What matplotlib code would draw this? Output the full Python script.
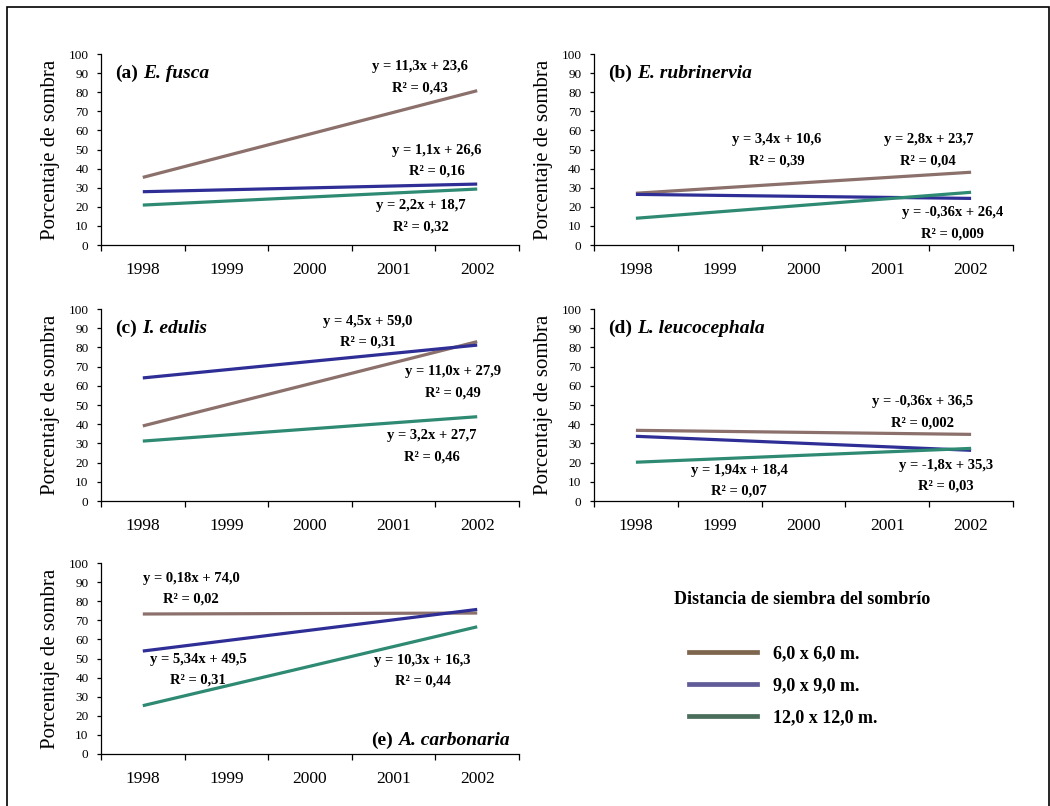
import matplotlib
matplotlib.use('Agg')
import matplotlib.pyplot as plt
from matplotlib.lines import Line2D
from matplotlib.patches import Rectangle
import numpy as np

plt.rcParams['font.family'] = ['Liberation Serif', 'DejaVu Serif']

years = ['1998', '1999', '2000', '2001', '2002']
spacings = ['6,0 x 6,0 m.', '9,0 x 9,0 m.', '12,0 x 12,0 m.']
letters = ['(a)', '(b)', '(c)', '(d)', '(e)']
species = ['E. fusca', 'E. rubrinervia', 'I. edulis', 'L. leucocephala', 'A. carbonaria']
legend_title = 'Distancia de siembra del sombrío'
ylabel = 'Porcentaje de sombra'

# trend line values at 1998 and 2002 (order: 6x6, 9x9, 12x12)
fusca = [[35.4, 80.8], [27.9, 31.9], [20.9, 29.3]]
rubrinervia = [[27.1, 38.1], [26.5, 24.4], [14.0, 27.6]]
edulis = [[39.1, 83.0], [64.1, 81.2], [31.2, 43.9]]
leucocephala = [[36.8, 34.7], [33.7, 26.4], [20.2, 27.4]]
carbonaria = [[73.3, 73.8], [53.9, 75.7], [25.3, 66.6]]

# regression equations printed in each panel
eq_fusca = ['y = 11,3x + 23,6', 'y = 1,1x + 26,6', 'y = 2,2x + 18,7']
r2_fusca = ['R² = 0,43', 'R² = 0,16', 'R² = 0,32']
eq_rubrinervia = ['y = 3,4x + 10,6', 'y = 2,8x + 23,7', 'y = -0,36x + 26,4']
r2_rubrinervia = ['R² = 0,39', 'R² = 0,04', 'R² = 0,009']
eq_edulis = ['y = 4,5x + 59,0', 'y = 11,0x + 27,9', 'y = 3,2x + 27,7']
r2_edulis = ['R² = 0,31', 'R² = 0,49', 'R² = 0,46']
eq_leucocephala = ['y = -0,36x + 36,5', 'y = 1,94x + 18,4', 'y = -1,8x + 35,3']
r2_leucocephala = ['R² = 0,002', 'R² = 0,07', 'R² = 0,03']
eq_carbonaria = ['y = 0,18x + 74,0', 'y = 5,34x + 49,5', 'y = 10,3x + 16,3']
r2_carbonaria = ['R² = 0,02', 'R² = 0,31', 'R² = 0,44']

panels = [fusca, rubrinervia, edulis, leucocephala, carbonaria]
equations = [eq_fusca, eq_rubrinervia, eq_edulis, eq_leucocephala, eq_carbonaria]
r2s = [r2_fusca, r2_rubrinervia, r2_edulis, r2_leucocephala, r2_carbonaria]

# layout: where the equation labels sit (axis units)
eq_pos = [
    [(3.82, 93.2), (4.02, 49.7), (3.83, 20.6)],
    [(2.18, 55.0), (3.99, 55.0), (4.28, 16.9)],
    [(3.19, 93.7), (4.21, 67.3), (3.955, 33.9)],
    [(3.92, 51.7), (1.73, 16.1), (4.20, 18.7)],
    [(1.08, 92.0), (1.16, 49.6), (3.845, 49.2)],
]
rects = [
    [101/1050, 1-245/806, 418/1050, 191/806],
    [594/1050, 1-245/806, 419/1050, 191/806],
    [101/1050, 1-501/806, 418/1050, 192/806],
    [594/1050, 1-501/806, 419/1050, 192/806],
    [101/1050, 1-754/806, 418/1050, 191/806],
]
line_colors = ['#8b706b', '#2e2e96', '#2e8a72']
legend_colors = ['#7d664d', '#605c98', '#4a6e5a']

fig = plt.figure(figsize=(10.5, 8.06), dpi=100)
# frame round the figure
fig.patches.append(Rectangle((7/1050, -0.02), 1042/1050, 1.02 - 7/806, transform=fig.transFigure,
                             fill=False, edgecolor='black', linewidth=1.2))

xc = np.arange(len(years)) + 0.5
for i, data in enumerate(panels):
    ax = fig.add_axes(rects[i])
    for j, (start, end) in enumerate(data):
        ax.plot([xc[0], xc[-1]], [start, end], color=line_colors[j], linewidth=2.3, solid_capstyle='butt')
    for j, (x, y) in enumerate(eq_pos[i]):
        ax.text(x, y, equations[i][j], ha='center', va='center', fontsize=10.5, fontweight='bold')
        ax.text(x, y - 11, r2s[i][j], ha='center', va='center', fontsize=10.5, fontweight='bold')
    # panel title, letter bold + name bold italic
    if i < 4:
        t1 = ax.text(0.17, 90, letters[i], ha='left', va='center', fontsize=14, fontweight='bold')
        ax.annotate(species[i], xy=(1, 0), xycoords=t1, xytext=(3.5, 0), textcoords='offset points',
                    ha='left', va='bottom', fontsize=14, fontweight='bold', fontstyle='italic')
    else:
        t2 = ax.text(4.89, 7.3, species[i], ha='right', va='center', fontsize=14, fontweight='bold',
                     fontstyle='italic')
        ax.annotate(letters[i], xy=(0, 0), xycoords=t2, xytext=(-3.5, 0), textcoords='offset points',
                    ha='right', va='bottom', fontsize=14, fontweight='bold')
    # axes
    ax.set_xlim(0, len(years))
    ax.set_ylim(0, 100)
    ax.set_xticks(np.arange(len(years) + 1))
    ax.set_xticklabels([])
    ax.set_xticks(xc, minor=True)
    ax.set_xticklabels(years, minor=True)
    ax.set_yticks(np.arange(0, 101, 10))
    ax.tick_params(axis='x', which='major', length=4, width=0.9)
    ax.tick_params(axis='x', which='minor', length=0, pad=12, labelsize=12.5)
    ax.tick_params(axis='y', length=3, width=0.9, pad=6, labelsize=9.5)
    for s in ['top', 'right']:
        ax.spines[s].set_visible(False)
    for s in ['left', 'bottom']:
        ax.spines[s].set_linewidth(0.9)
    ax.set_ylabel(ylabel, fontsize=15)
    ax.yaxis.set_label_coords(-0.097, 0.5)

# legend
fig.text(802/1050, 1-600/806, legend_title, ha='center', va='center', fontsize=13, fontweight='bold')
handles = [Line2D([], [], color=c, linewidth=3.4) for c in legend_colors]
leg = fig.legend(handles, spacings, loc='upper left', bbox_to_anchor=(689/1050, 1-645/806),
                 frameon=False, borderpad=0, borderaxespad=0, handlelength=3.75, handletextpad=0.9,
                 labelspacing=0.85, prop={'size': 13, 'weight': 'bold'})

fig.savefig('out.png', dpi=100)
